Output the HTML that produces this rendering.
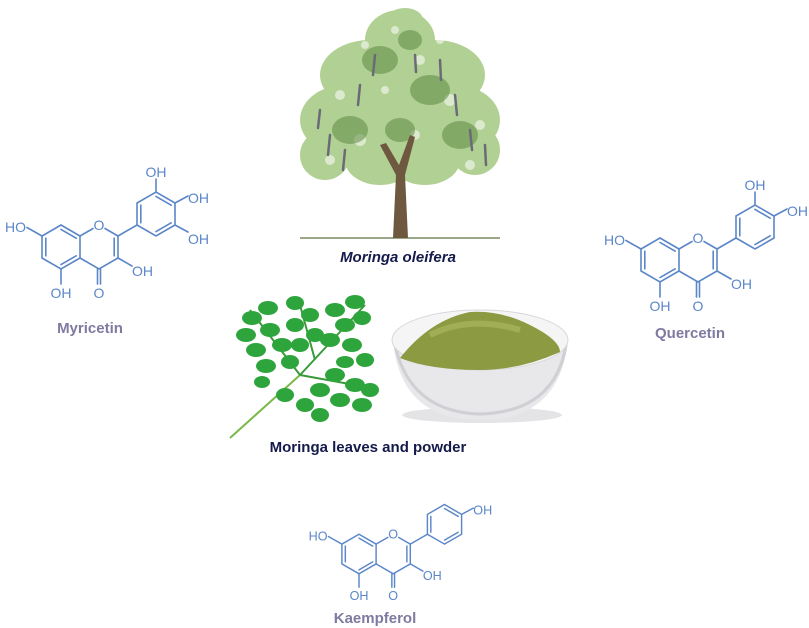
<!DOCTYPE html>
<html><head><meta charset="utf-8"><style>
html,body{margin:0;padding:0;background:#fff;width:809px;height:628px;overflow:hidden}
svg{display:block}
.b line,.b polyline{stroke:#5b86c8;stroke-width:1.6;fill:none;stroke-linecap:round}
.at{font-family:"Liberation Sans",sans-serif;font-size:14px;fill:#5b86c8}
.nm{font-family:"Liberation Sans",sans-serif;font-size:15px;font-weight:bold;fill:#7e7aa0}
.cap{font-family:"Liberation Sans",sans-serif;font-size:15px;font-weight:bold;fill:#141a4a}
</style></head><body>
<svg width="809" height="628" viewBox="0 0 809 628" xmlns="http://www.w3.org/2000/svg">
<defs>
<g id="core" class="b">
  <polyline points="0,-22 -19,-11 -19,11 0,22 19,11 19,-11 0,-22"/>
  <line x1="-15.2" y1="-8.8" x2="-15.2" y2="8.8"/>
  <line x1="0" y1="-17.6" x2="15.2" y2="-8.8"/>
  <line x1="15.2" y1="8.8" x2="0" y2="17.6"/>
  <line x1="19" y1="-11" x2="32" y2="-18.5"/>
  <line x1="44" y1="-18.5" x2="57" y2="-11"/>
  <polyline points="57,-11 57,11 38,22 19,11"/>
  <line x1="53.2" y1="-8.8" x2="53.2" y2="8.8"/>
  <line x1="57" y1="-11" x2="76" y2="-22"/>
  <polyline points="76,-22 76,-44 95,-55 114,-44 114,-22 95,-11 76,-22"/>
  <line x1="95" y1="-50.6" x2="110.2" y2="-41.8"/>
  <line x1="110.2" y1="-24.2" x2="95" y2="-15.4"/>
  <line x1="79.8" y1="-24.2" x2="79.8" y2="-41.8"/>
  <line x1="-19" y1="-11" x2="-34" y2="-19.5"/>
  <line x1="0" y1="22" x2="0" y2="37"/>
  <line x1="36.5" y1="22" x2="36.5" y2="37"/>
  <line x1="39.5" y1="22" x2="39.5" y2="37"/>
  <line x1="57" y1="11" x2="71" y2="19"/>
  <text class="at" x="38" y="-17" text-anchor="middle" stroke="none">O</text>
  <text class="at" x="-35" y="-15" text-anchor="end" stroke="none">HO</text>
  <text class="at" x="0" y="51" text-anchor="middle" stroke="none">OH</text>
  <text class="at" x="38" y="51" text-anchor="middle" stroke="none">O</text>
  <text class="at" x="71" y="29" stroke="none">OH</text>
</g>
<g id="pOH" class="b">
  <line x1="114" y1="-44" x2="127" y2="-51"/>
  <text class="at" x="127" y="-44" stroke="none">OH</text>
</g>
<g id="tOH" class="b">
  <line x1="95" y1="-55" x2="95" y2="-68"/>
  <text class="at" x="95" y="-70" text-anchor="middle" stroke="none">OH</text>
</g>
<g id="mOH" class="b">
  <line x1="114" y1="-22" x2="127" y2="-15"/>
  <text class="at" x="127" y="-3" stroke="none">OH</text>
</g>
</defs>

<g transform="translate(61,247)"><use href="#core"/><use href="#pOH"/><use href="#tOH"/><use href="#mOH"/></g>
<text class="nm" x="90" y="333" text-anchor="middle">Myricetin</text>

<g transform="translate(660,260)"><use href="#core"/><use href="#pOH"/><use href="#tOH"/></g>
<text class="nm" x="690" y="338" text-anchor="middle">Quercetin</text>

<g transform="translate(359,554) scale(0.9)"><use href="#core"/><use href="#pOH"/></g>
<text class="nm" x="375" y="623" text-anchor="middle">Kaempferol</text>

<!-- Tree -->
<g>
  <line x1="300" y1="238" x2="500" y2="238" stroke="#9aa88a" stroke-width="2"/>
  <g fill="#a9cc88" opacity="0.9">
    <ellipse cx="400" cy="40" rx="35" ry="30"/>
    <ellipse cx="370" cy="75" rx="50" ry="35"/>
    <ellipse cx="435" cy="75" rx="50" ry="35"/>
    <ellipse cx="345" cy="120" rx="45" ry="35"/>
    <ellipse cx="455" cy="120" rx="45" ry="35"/>
    <ellipse cx="400" cy="110" rx="45" ry="40"/>
    <ellipse cx="325" cy="155" rx="25" ry="25"/>
    <ellipse cx="475" cy="150" rx="25" ry="25"/>
    <ellipse cx="380" cy="160" rx="35" ry="25"/>
    <ellipse cx="425" cy="160" rx="35" ry="25"/>
    <ellipse cx="405" cy="20" rx="18" ry="12"/>
  </g>
  <g fill="#fff" opacity="0.55">
    <circle cx="340" cy="95" r="5"/><circle cx="360" cy="140" r="6"/><circle cx="420" cy="60" r="5"/>
    <circle cx="450" cy="100" r="6"/><circle cx="480" cy="125" r="5"/><circle cx="385" cy="90" r="4"/>
    <circle cx="330" cy="160" r="5"/><circle cx="470" cy="165" r="5"/><circle cx="395" cy="30" r="4"/>
    <circle cx="415" cy="135" r="5"/><circle cx="365" cy="45" r="4"/><circle cx="440" cy="40" r="4"/>
  </g>
  <g fill="#5e8a44" opacity="0.55">
    <ellipse cx="380" cy="60" rx="18" ry="14"/><ellipse cx="430" cy="90" rx="20" ry="15"/>
    <ellipse cx="350" cy="130" rx="18" ry="14"/><ellipse cx="460" cy="135" rx="18" ry="14"/>
    <ellipse cx="400" cy="130" rx="15" ry="12"/><ellipse cx="410" cy="40" rx="12" ry="10"/>
  </g>
  <path d="M393,238 L396,175 L380,145 L386,143 L399,165 L410,135 L415,137 L405,175 L408,238 Z" fill="#6e5840"/>
  <g stroke="#6a6a78" stroke-width="2.5" stroke-linecap="round">
    <line x1="330" y1="135" x2="328" y2="155"/><line x1="345" y1="150" x2="343" y2="170"/>
    <line x1="470" y1="130" x2="472" y2="150"/><line x1="485" y1="145" x2="486" y2="165"/>
    <line x1="360" y1="85" x2="358" y2="105"/><line x1="440" y1="60" x2="441" y2="80"/>
    <line x1="455" y1="95" x2="457" y2="115"/><line x1="375" y1="55" x2="373" y2="75"/>
    <line x1="320" y1="110" x2="318" y2="128"/><line x1="415" y1="55" x2="416" y2="72"/>
  </g>
</g>
<text class="cap" x="398" y="262" text-anchor="middle" font-style="italic">Moringa oleifera</text>

<!-- Leaves -->
<g>
  <line x1="230" y1="438" x2="300" y2="375" stroke="#7ab84a" stroke-width="2"/>
  <path d="M300,375 L365,305 M300,375 L250,310 M300,375 L355,385 M315,360 L300,305" stroke="#3a9a3a" stroke-width="2" fill="none"/>
  <g fill="#2ea53c">
    <ellipse cx="252" cy="318" rx="10" ry="7"/><ellipse cx="268" cy="308" rx="10" ry="7"/><ellipse cx="246" cy="335" rx="10" ry="7"/>
    <ellipse cx="270" cy="330" rx="10" ry="7"/><ellipse cx="256" cy="350" rx="10" ry="7"/><ellipse cx="282" cy="345" rx="10" ry="7"/>
    <ellipse cx="266" cy="366" rx="10" ry="7"/><ellipse cx="290" cy="362" rx="9" ry="7"/>
    <ellipse cx="295" cy="303" rx="9" ry="7"/><ellipse cx="310" cy="315" rx="9" ry="7"/><ellipse cx="295" cy="325" rx="9" ry="7"/>
    <ellipse cx="315" cy="335" rx="9" ry="7"/><ellipse cx="300" cy="345" rx="9" ry="7"/>
    <ellipse cx="335" cy="310" rx="10" ry="7"/><ellipse cx="355" cy="302" rx="10" ry="7"/><ellipse cx="345" cy="325" rx="10" ry="7"/>
    <ellipse cx="362" cy="318" rx="9" ry="7"/><ellipse cx="330" cy="340" rx="10" ry="7"/><ellipse cx="352" cy="345" rx="10" ry="7"/>
    <ellipse cx="320" cy="390" rx="10" ry="7"/><ellipse cx="335" cy="375" rx="10" ry="7"/><ellipse cx="340" cy="400" rx="10" ry="7"/>
    <ellipse cx="355" cy="385" rx="10" ry="7"/><ellipse cx="362" cy="405" rx="10" ry="7"/><ellipse cx="370" cy="390" rx="9" ry="7"/>
    <ellipse cx="305" cy="405" rx="9" ry="7"/><ellipse cx="285" cy="395" rx="9" ry="7"/><ellipse cx="320" cy="415" rx="9" ry="7"/>
    <ellipse cx="365" cy="360" rx="9" ry="7"/><ellipse cx="345" cy="362" rx="9" ry="6"/><ellipse cx="262" cy="382" rx="8" ry="6"/>
  </g>
</g>

<!-- Bowl -->
<g>
  <ellipse cx="482" cy="415" rx="80" ry="8" fill="#e4e4e6"/>
  <path d="M393,340 Q400,420 480,420 Q560,420 568,340 Z" fill="#e8e8ea"/>
  <path d="M395,345 Q410,412 480,414 Q555,412 566,345" fill="none" stroke="#cfcfd4" stroke-width="3"/>
  <ellipse cx="480" cy="340" rx="88" ry="30" fill="#f5f5f6" stroke="#d8d8dc"/>
  <path d="M400,358 Q430,320 470,312 Q500,310 530,325 Q560,340 560,352 Q520,370 480,370 Q430,370 400,358 Z" fill="#8c9a42"/>
  <path d="M430,335 Q470,315 520,330" fill="none" stroke="#a1ae55" stroke-width="6"/>
</g>
<text class="cap" x="368" y="452" text-anchor="middle">Moringa  leaves and powder</text>
</svg>
</body></html>
